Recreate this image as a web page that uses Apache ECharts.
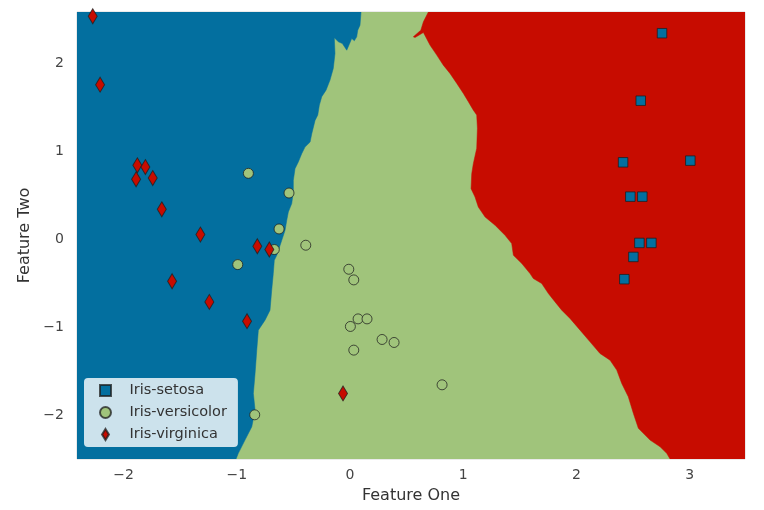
<!DOCTYPE html>
<html>
<head>
<meta charset="utf-8">
<title>Decision boundaries</title>
<script src="https://cdn.jsdelivr.net/npm/echarts@6/dist/echarts.min.js"></script>
<style>
  html, body { margin: 0; padding: 0; background: #fff; }
  #chart { width: 764px; height: 510px; }
</style>
</head>
<body>
<div id="chart"></div>
<script>
// axis extents of the prediction mesh
const xRange = [-2.412, 3.489]
const yRange = [-2.491, 2.588]
const xTicks = [-2, -1, 0, 1, 2, 3]
const yTicks = [-2, -1, 0, 1, 2]

const classNames = ['Iris-setosa', 'Iris-versicolor', 'Iris-virginica']

// observed points [feature one, feature two]
const setosa = [
  [2.756, 2.347], [2.568, 1.580], [2.412, 0.880], [3.006, 0.899], [2.476, 0.490],
  [2.582, 0.490], [2.556, -0.036], [2.662, -0.036], [2.503, -0.195], [2.423, -0.448]
]
const versicolor = [
  [-0.898, 0.755], [-0.539, 0.531], [-0.627, 0.123], [-0.669, -0.111], [-0.391, -0.062],
  [-0.992, -0.282], [-0.842, -1.989], [-0.011, -0.335], [0.033, -0.456], [0.071, -0.899],
  [0.150, -0.899], [0.003, -0.985], [0.283, -1.133], [0.389, -1.167], [0.033, -1.254],
  [0.813, -1.648]
]
const virginica = [
  [-2.273, 2.540], [-2.208, 1.762], [-1.879, 0.846], [-1.808, 0.826], [-1.890, 0.687],
  [-1.743, 0.701], [-1.663, 0.346], [-1.322, 0.059], [-0.819, -0.074], [-0.713, -0.111],
  [-1.572, -0.471], [-1.243, -0.706], [-0.910, -0.925], [-0.062, -1.746]
]

// decision boundary between the left (setosa-coloured) region and the middle one, top to bottom
const leftEdge = [
  [0.097, 2.588], [0.088, 2.438], [0.068, 2.381], [0.059, 2.306], [0.038, 2.261],
  [0.015, 2.287], [-0.029, 2.154], [-0.068, 2.230], [-0.103, 2.250], [-0.139, 2.295],
  [-0.133, 2.117], [-0.148, 1.947], [-0.177, 1.814], [-0.212, 1.700], [-0.250, 1.625],
  [-0.271, 1.530], [-0.285, 1.417], [-0.309, 1.356], [-0.338, 1.205], [-0.353, 1.110],
  [-0.398, 1.053], [-0.427, 0.978], [-0.457, 0.883], [-0.486, 0.808], [-0.501, 0.675],
  [-0.501, 0.543], [-0.515, 0.411], [-0.545, 0.316], [-0.559, 0.221], [-0.574, 0.108],
  [-0.603, -0.006], [-0.630, -0.110], [-0.647, -0.176], [-0.669, -0.233], [-0.678, -0.384],
  [-0.692, -0.573], [-0.707, -0.800], [-0.751, -0.914], [-0.810, -1.027], [-0.824, -1.254],
  [-0.839, -1.519], [-0.854, -1.746], [-0.839, -1.935], [-0.868, -2.125], [-0.928, -2.276],
  [-0.987, -2.427], [-1.007, -2.491]
]
// decision boundary between the middle region and the right one, top to bottom
const rightEdge = [
  [0.692, 2.588], [0.648, 2.477], [0.625, 2.381], [0.559, 2.306], [0.574, 2.298],
  [0.648, 2.355], [0.707, 2.211], [0.766, 2.098], [0.824, 1.984], [0.883, 1.890],
  [0.943, 1.776], [1.001, 1.663], [1.045, 1.569], [1.089, 1.473], [1.119, 1.417],
  [1.125, 1.266], [1.119, 1.039], [1.089, 0.865], [1.075, 0.751], [1.069, 0.581],
  [1.104, 0.486], [1.133, 0.372], [1.193, 0.259], [1.281, 0.165], [1.369, 0.051],
  [1.428, -0.043], [1.443, -0.176], [1.517, -0.270], [1.590, -0.384], [1.619, -0.440],
  [1.693, -0.497], [1.752, -0.611], [1.811, -0.706], [1.870, -0.800], [1.943, -0.894],
  [2.032, -1.027], [2.120, -1.160], [2.208, -1.292], [2.297, -1.368], [2.356, -1.481],
  [2.400, -1.632], [2.458, -1.784], [2.503, -1.973], [2.547, -2.143], [2.650, -2.276],
  [2.739, -2.352], [2.797, -2.427], [2.827, -2.491]
]

const BLUE = '#036f9f'
const GREEN = '#a0c47b'
const RED = '#c70c00'
const FONT = 'DejaVu Sans'

const fullArea = [[xRange[0], yRange[1]], [xRange[1], yRange[1]], [xRange[1], yRange[0]], [xRange[0], yRange[0]]]
const leftArea = [[xRange[0], yRange[1]]].concat(leftEdge, [[xRange[0], yRange[0]]])
const rightArea = [[xRange[1], yRange[1]]].concat(rightEdge, [[xRange[1], yRange[0]]])

function regionSeries(points, color) {
  return {
    type: 'custom',
    silent: true,
    clip: true,
    z: 1,
    data: points,
    encode: { x: 0, y: 1 },
    renderItem: function (params, api) {
      if (params.context.done) return
      params.context.done = true
      return {
        type: 'polygon',
        shape: { points: points.map(p => api.coord(p)) },
        style: { fill: color, stroke: color, lineWidth: 0.5 }
      }
    }
  }
}

function pointSeries(name, data, symbol, size, color) {
  return {
    type: 'scatter',
    name,
    data,
    symbol,
    symbolSize: size,
    z: 5,
    itemStyle: { color, borderColor: 'rgba(30,30,30,0.75)', borderWidth: 1, opacity: 1 },
    emphasis: { disabled: true }
  }
}

const fmt = v => (v < 0 ? '\u2212' + Math.abs(v) : String(v))

const chart = echarts.init(document.getElementById('chart'), null, { renderer: 'canvas' })
chart.setOption({
  animation: false,
  backgroundColor: '#fff',
  textStyle: { fontFamily: FONT },
  grid: {
    left: 77, right: 19, top: 12, bottom: 51,
    show: true, backgroundColor: '#fff', borderColor: '#d6d6d6', borderWidth: 1
  },
  xAxis: {
    type: 'value',
    min: xRange[0], max: xRange[1],
    name: 'Feature One', nameLocation: 'middle', nameGap: 29,
    nameTextStyle: { fontFamily: FONT, fontSize: 16, color: '#333' },
    axisLine: { show: false }, axisTick: { show: false }, splitLine: { show: false },
    axisLabel: { customValues: xTicks, formatter: fmt, fontFamily: FONT, fontSize: 14, color: '#444', margin: 9 }
  },
  yAxis: {
    type: 'value',
    min: yRange[0], max: yRange[1],
    name: 'Feature Two', nameLocation: 'middle', nameGap: 35,
    nameTextStyle: { fontFamily: FONT, fontSize: 16, color: '#333' },
    axisLine: { show: false }, axisTick: { show: false }, splitLine: { show: false },
    axisLabel: { customValues: yTicks, formatter: fmt, fontFamily: FONT, fontSize: 14, color: '#444', margin: 13 }
  },
  legend: {
    data: [
      { name: classNames[0], icon: 'path://M0,0L10,0L10,10L0,10Z' },
      { name: classNames[1], icon: 'circle' },
      { name: classNames[2], icon: 'path://M5,0L10,8L5,16L0,8Z' }
    ],
    orient: 'vertical',
    left: 84, top: 378,
    padding: [5, 11, 5, 15],
    itemWidth: 38, itemHeight: 11, itemGap: 7,
    backgroundColor: 'rgba(255,255,255,0.8)',
    borderRadius: 4,
    selectedMode: false,
    textStyle: { fontFamily: FONT, fontSize: 14.5, color: '#333' }
  },
  series: [
    regionSeries(fullArea, GREEN),
    regionSeries(leftArea, BLUE),
    regionSeries(rightArea, RED),
    pointSeries(classNames[0], setosa, 'rect', 9.5, BLUE),
    pointSeries(classNames[1], versicolor, 'circle', 10, GREEN),
    pointSeries(classNames[2], virginica, 'diamond', [9, 15], RED)
  ]
})
</script>
</body>
</html>
